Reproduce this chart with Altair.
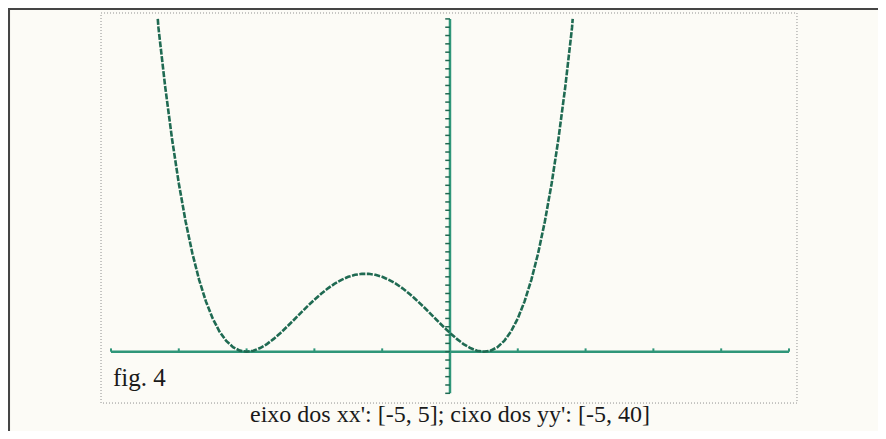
import altair as alt
import pandas as pd

# ---- data ----
curve_x = [-4.31, -4.3, -4.2, -4.1, -4.0, -3.9, -3.8, -3.7, -3.6, -3.5, -3.4, -3.3, -3.2, -3.1,
           -3.0, -2.9, -2.8, -2.7, -2.6, -2.5, -2.4, -2.3, -2.2, -2.1, -2.0, -1.9, -1.8, -1.7,
           -1.6, -1.5, -1.4, -1.3, -1.2, -1.1, -1.0, -0.9, -0.8, -0.7, -0.6, -0.5, -0.4, -0.3,
           -0.2, -0.1, 0.0, 0.1, 0.2, 0.3, 0.4, 0.5, 0.6, 0.7, 0.8, 0.9, 1.0, 1.1, 1.2, 1.3,
           1.4, 1.5, 1.6, 1.7, 1.8, 1.81]
curve_y = [40.0, 38.94, 31.81, 25.60, 20.25, 15.68, 11.83, 8.64, 6.05, 4.0, 2.43, 1.30, 0.55, 0.13,
           0.0, 0.12, 0.44, 0.92, 1.54, 2.25, 3.03, 3.84, 4.67, 5.48, 6.25, 6.97, 7.62, 8.18,
           8.64, 9.0, 9.24, 9.36, 9.36, 9.24, 9.0, 8.64, 8.18, 7.62, 6.97, 6.25, 5.48, 4.67,
           3.84, 3.03, 2.25, 1.54, 0.92, 0.44, 0.12, 0.0, 0.13, 0.55, 1.30, 2.43, 4.0, 6.05, 8.64, 11.83,
           15.68, 20.25, 25.60, 31.81, 38.94, 40.0]
x_window = [-5, 5]
y_window = [-5, 40]
x_ticks = list(range(-5, 6))
y_ticks = list(range(-5, 41))
fig_label = "fig. 4"
caption = "eixo dos xx': [-5, 5]; cixo dos yy': [-5, 40]"

# ---- layout (scale domains chosen so the window sits as in the picture) ----
XD = [-6.519, 6.313]
YD = [-9.53, 41.31]
FRAME = dict(x=-5.147, x2=5.118, y=-6.17, y2=40.71)
TOP_EDGE = dict(x=-6.519, x2=6.313, y=41.07, y2=41.31)
LEFT_EDGE = dict(x=-6.519, x2=-6.489, y=-9.53, y2=41.31)

TEAL = "#2f9679"
CURVE = "#1f6a52"
BG = "#fcfbf6"
SERIF = "Liberation Serif, Times New Roman, Times, serif"

xs = alt.Scale(domain=XD, nice=False, zero=False)
ys = alt.Scale(domain=YD, nice=False, zero=False)

def X(f="x"):
    return alt.X(f"{f}:Q", scale=xs, axis=None)

def Y(f="y"):
    return alt.Y(f"{f}:Q", scale=ys, axis=None)

edges = alt.Chart(pd.DataFrame([TOP_EDGE, LEFT_EDGE])).mark_rect(
    color="#454545", strokeWidth=0
).encode(x=X(), x2="x2:Q", y=Y(), y2="y2:Q")

frame = alt.Chart(pd.DataFrame([FRAME])).mark_rect(
    fill=None, stroke="#8f8f8f", strokeWidth=1, strokeDash=[1, 2]
).encode(x=X(), x2="x2:Q", y=Y(), y2="y2:Q")

x_axis = alt.Chart(pd.DataFrame({"x": [x_window[0]], "x2": [x_window[1]], "y": [0]})).mark_rule(
    color=TEAL, strokeWidth=2.5
).encode(x=X(), x2="x2:Q", y=Y())
y_axis = alt.Chart(pd.DataFrame({"x": [0], "y": [y_window[0]], "y2": [y_window[1]]})).mark_rule(
    color=TEAL, strokeWidth=2.5
).encode(x=X(), y=Y(), y2="y2:Q")

xt = pd.DataFrame({"x": x_ticks})
xt["y"] = 0
xt["y2"] = 0.4
x_tick_marks = alt.Chart(xt).mark_rule(color=TEAL, strokeWidth=2).encode(x=X(), y=Y(), y2="y2:Q")

yt = pd.DataFrame({"y": y_ticks})
yt["x"] = -0.07
yt["x2"] = 0
y_tick_marks = alt.Chart(yt).mark_rule(color=CURVE, strokeWidth=1.5).encode(x=X(), x2="x2:Q", y=Y())

curve = alt.Chart(pd.DataFrame({"x": curve_x, "y": curve_y})).mark_line(
    color=CURVE, strokeWidth=2.6, strokeDash=[6, 1.5]
).encode(x=X(), y=Y())

fig_text = alt.Chart(pd.DataFrame({"x": [-4.97], "y": [-4.09], "t": [fig_label]})).mark_text(
    align="left", baseline="alphabetic", font=SERIF, fontSize=25, color="#1a1a1a"
).encode(x=X(), y=Y(), text="t:N")

cap_text = alt.Chart(pd.DataFrame({"x": [0.0], "y": [-8.41], "t": [caption]})).mark_text(
    align="center", baseline="alphabetic", font=SERIF, fontSize=24, color="#1a1a1a"
).encode(x=X(), y=Y(), text="t:N")

chart = alt.layer(
    edges, frame, x_axis, y_axis, x_tick_marks, y_tick_marks, curve, fig_text, cap_text
).properties(
    width=870, height=423, padding=0, autosize=alt.AutoSizeParams(type="none"), background=BG
).configure_view(stroke="transparent", strokeWidth=0, fill=BG)

chart.save("out.html", embed_options={"renderer": "svg", "actions": False})
